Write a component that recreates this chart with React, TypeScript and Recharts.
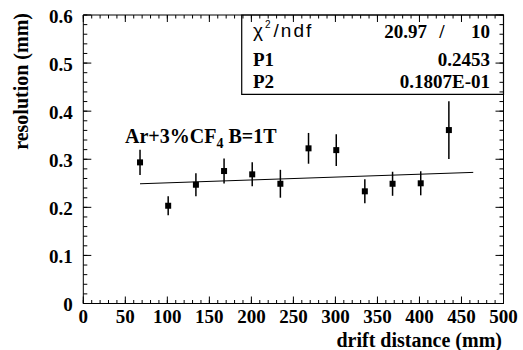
import React from 'react';
import { ComposedChart, Scatter, XAxis, YAxis, ErrorBar, ReferenceArea } from 'recharts';

const driftDistance = [67.5, 101, 134, 167.5, 201, 234.5, 268, 301, 335, 368, 401.5, 435];
const resolution = [0.2935, 0.2033, 0.247, 0.2755, 0.2686, 0.249, 0.3227, 0.319, 0.2333, 0.249, 0.25, 0.3607];
const resolutionErr = [0.026, 0.02, 0.024, 0.026, 0.025, 0.029, 0.032, 0.033, 0.025, 0.025, 0.025, 0.06];

const fitX = [67.5, 464];
const fitY = [0.249, 0.2727];

const xTicks = [0, 10, 20, 30, 40, 50, 60, 70, 80, 90, 100, 110, 120, 130, 140, 150, 160, 170, 180, 190, 200,
  210, 220, 230, 240, 250, 260, 270, 280, 290, 300, 310, 320, 330, 340, 350, 360, 370, 380, 390, 400,
  410, 420, 430, 440, 450, 460, 470, 480, 490, 500];
const xMajorLabels = [0, 50, 100, 150, 200, 250, 300, 350, 400, 450, 500];
const yTicks = [0, 0.02, 0.04, 0.06, 0.08, 0.1, 0.12, 0.14, 0.16, 0.18, 0.2, 0.22, 0.24, 0.26, 0.28, 0.3,
  0.32, 0.34, 0.36, 0.38, 0.4, 0.42, 0.44, 0.46, 0.48, 0.5, 0.52, 0.54, 0.56, 0.58, 0.6];
const yMajorLabels = [0, 0.1, 0.2, 0.3, 0.4, 0.5, 0.6];

const statsBox = { x1: 188.5, x2: 500, y1: 0.435, y2: 0.6 };
const statsRows = [
  { name: 'P1', value: '0.2453' },
  { name: 'P2', value: '0.1807E-01' },
];
const chi2 = '20.97';
const ndf = '10';

const points = driftDistance.map((x, i) => ({ x, y: resolution[i], err: resolutionErr[i] }));
const fitData = fitX.map((x, i) => ({ x, y: fitY[i] }));

const SERIF = '"Liberation Serif", "Times New Roman", serif';
const SANS = '"Liberation Sans", Arial, sans-serif';

const isMajorY = (v: number) => yMajorLabels.some((m) => Math.abs(m - v) < 1e-6);

const BottomTick = (props: any) => {
  const { x, y, payload } = props;
  const v = payload.value;
  if (!xMajorLabels.includes(v)) return <g />;
  return (
    <g>
      <path d={`M${x},${y}V${y - 7}`} stroke="#000" strokeWidth={1} fill="none" />
      <text x={x} y={y + 19.5} textAnchor="middle" fontFamily={SERIF} fontWeight="bold" fontSize={19} fill="#000">
        {v}
      </text>
    </g>
  );
};

const TopTick = (props: any) => {
  const { x, y, payload } = props;
  if (!xMajorLabels.includes(payload.value)) return <g />;
  return <path d={`M${x},${y}V${y + 7}`} stroke="#000" strokeWidth={1} fill="none" />;
};

const LeftTick = (props: any) => {
  const { x, y, payload } = props;
  const v = payload.value;
  if (!isMajorY(v)) return <g />;
  return (
    <g>
      <path d={`M${x},${y}H${x + 8}`} stroke="#000" strokeWidth={1} fill="none" />
      <text x={x - 10.5} y={y + 7.5} textAnchor="end" fontFamily={SERIF} fontWeight="bold" fontSize={19} fill="#000">
        {String(Math.round(v * 10) / 10)}
      </text>
    </g>
  );
};

const RightTick = (props: any) => {
  const { x, y, payload } = props;
  if (!isMajorY(payload.value)) return <g />;
  return <path d={`M${x},${y}H${x - 8}`} stroke="#000" strokeWidth={1} fill="none" />;
};

const Marker = (props: any) => {
  const { cx, cy } = props;
  if (cx == null || cy == null) return <g />;
  return <rect x={cx - 3} y={cy - 3} width={6} height={6} fill="#000" />;
};

const NoMarker = () => <g />;

const axisLineStyle = { stroke: '#000', strokeWidth: 1 };
const tickLineStyle = { stroke: '#000', strokeWidth: 1 };

export default function App() {
  return (
    <div style={{ position: 'absolute', left: 0, top: 0, width: 523, height: 350, background: '#fff' }}>
      <ComposedChart
        width={523}
        height={350}
        margin={{ top: 14, right: 18.5, bottom: 0, left: 0 }}
      >
        <XAxis
          xAxisId="bottom"
          dataKey="x"
          type="number"
          domain={[0, 500]}
          ticks={xTicks}
          interval={0}
          tick={<BottomTick />}
          tickLine={tickLineStyle}
          tickSize={-3.5}
          tickMargin={3.5}
          height={46.5}
          axisLine={axisLineStyle}
          allowDataOverflow
        />
        <XAxis
          xAxisId="top"
          orientation="top"
          dataKey="x"
          type="number"
          domain={[0, 500]}
          ticks={xTicks}
          interval={0}
          tick={<TopTick />}
          tickLine={tickLineStyle}
          tickSize={-3.5}
          tickMargin={3.5}
          height={1}
          axisLine={axisLineStyle}
          allowDataOverflow
        />
        <YAxis
          yAxisId="left"
          type="number"
          domain={[0, 0.6]}
          ticks={yTicks}
          interval={0}
          tick={<LeftTick />}
          tickLine={tickLineStyle}
          tickSize={-4}
          tickMargin={4}
          width={83.3}
          axisLine={axisLineStyle}
          allowDataOverflow
        />
        <YAxis
          yAxisId="right"
          orientation="right"
          type="number"
          domain={[0, 0.6]}
          ticks={yTicks}
          interval={0}
          tick={<RightTick />}
          tickLine={tickLineStyle}
          tickSize={-4}
          tickMargin={4}
          width={1}
          axisLine={axisLineStyle}
          allowDataOverflow
        />
        <ReferenceArea
          xAxisId="bottom"
          yAxisId="left"
          x1={statsBox.x1}
          x2={statsBox.x2}
          y1={statsBox.y1}
          y2={statsBox.y2}
          fill="none"
          fillOpacity={0}
          stroke="#000"
          strokeWidth={1.2}
          ifOverflow="visible"
        />
        <Scatter
          xAxisId="bottom"
          yAxisId="left"
          data={fitData}
          dataKey="y"
          line={{ stroke: '#000', strokeWidth: 1 }}
          shape={<NoMarker />}
          isAnimationActive={false}
        />
        <Scatter
          xAxisId="bottom"
          yAxisId="left"
          data={points}
          dataKey="y"
          shape={<Marker />}
          isAnimationActive={false}
        >
          <ErrorBar dataKey="err" direction="y" width={0} stroke="#000" strokeWidth={1.5} isAnimationActive={false} />
        </Scatter>
      </ComposedChart>
      <svg
        width={523}
        height={350}
        style={{ position: 'absolute', left: 0, top: 0, pointerEvents: 'none' }}
      >
        <text x={253} y={37} fontFamily={SANS} fontSize={19} fill="#000" letterSpacing={2}>
          <tspan>χ</tspan>
          <tspan dy={-9} fontSize={10}>2</tspan>
          <tspan dy={9} dx={1}>/ndf</tspan>
        </text>
        <text x={427} y={38} textAnchor="end" fontFamily={SERIF} fontWeight="bold" fontSize={19} fill="#000">{chi2}</text>
        <text x={442} y={38} textAnchor="middle" fontFamily={SERIF} fontWeight="bold" fontSize={19} fill="#000">/</text>
        <text x={490} y={38} textAnchor="end" fontFamily={SERIF} fontWeight="bold" fontSize={19} fill="#000">{ndf}</text>
        {statsRows.map((r, i) => (
          <g key={r.name}>
            <text x={253} y={65.5 + i * 22} fontFamily={SERIF} fontWeight="bold" fontSize={19} fill="#000">{r.name}</text>
            <text x={490} y={65.5 + i * 22} textAnchor="end" fontFamily={SERIF} fontWeight="bold" fontSize={19} fill="#000">{r.value}</text>
          </g>
        ))}
        <text x={125} y={143} fontFamily={SERIF} fontWeight="bold" fontSize={20} fill="#000">
          <tspan>Ar+3%CF</tspan>
          <tspan dy={5} fontSize={14}>4</tspan>
          <tspan dy={-5}> B=1T</tspan>
        </text>
        <text x={502} y={347} textAnchor="end" fontFamily={SERIF} fontWeight="bold" fontSize={20} fill="#000">
          drift distance (mm)
        </text>
        <text
          x={28}
          y={13}
          transform="rotate(-90 28 13)"
          textAnchor="end"
          fontFamily={SERIF}
          fontWeight="bold"
          fontSize={20}
          fill="#000"
        >
          resolution (mm)
        </text>
      </svg>
    </div>
  );
}
